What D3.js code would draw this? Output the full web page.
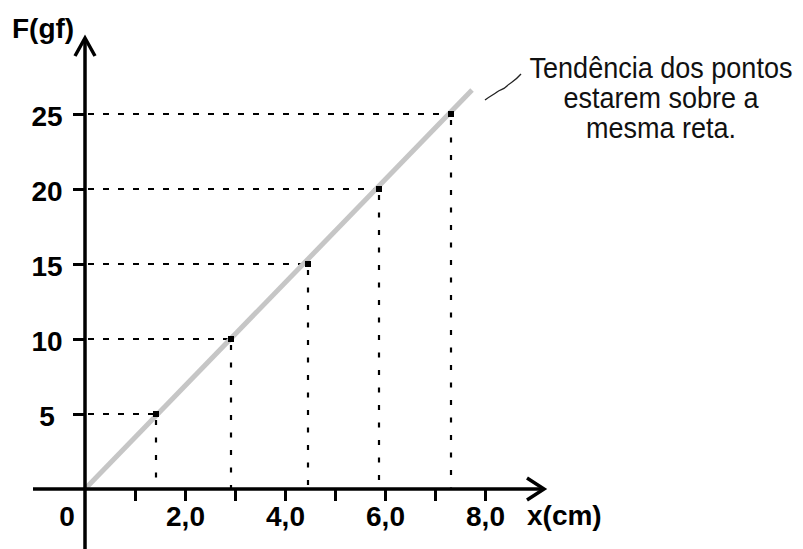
<!DOCTYPE html>
<html>
<head>
<meta charset="utf-8">
<script src="https://cdn.jsdelivr.net/npm/d3@7/dist/d3.min.js"></script>
<style>
  html, body { margin: 0; padding: 0; background: #fff; }
  svg { display: block; }
  .lbl { font-family: "Liberation Sans", Arial, sans-serif; font-weight: bold; font-size: 28px; fill: #000; }
  .note { font-family: "Liberation Sans", Arial, sans-serif; font-size: 26px; fill: #111; }
</style>
</head>
<body>
<script>
// Measured elongation x (cm) and the force F (gf) that produced it
const forces = [5, 10, 15, 20, 25];
const elongations = [1.42, 2.92, 4.46, 5.88, 7.32];

// End of the trend line drawn through the origin
const trendEnd = [7.74, 26.6];

// Axis ticks
const xTicks = [1, 2, 3, 4, 5, 6, 7, 8];
const yTicks = [5, 10, 15, 20, 25];

const noteLines = ["Tendência dos pontos", "estarem sobre a", "mesma reta."];

const W = 803, H = 549;
const svg = d3.select("body").append("svg").attr("width", W).attr("height", H);

const x = d3.scaleLinear().domain([0, 8]).range([85, 485]);
const y = d3.scaleLinear().domain([0, 25]).range([489, 114]);

const fmt = d => d3.format(".1f")(d).replace(".", ",");

// Dashed guides from each point to both axes
const guides = svg.append("g").attr("stroke", "#000").attr("stroke-width", 2.2).attr("fill", "none");
forces.forEach((f, i) => {
  guides.append("line")
    .attr("x1", x(0) + 3).attr("x2", x(elongations[i]))
    .attr("y1", y(f)).attr("y2", y(f))
    .attr("stroke-dasharray", "6,9");
  guides.append("line")
    .attr("x1", x(elongations[i])).attr("x2", x(elongations[i]))
    .attr("y1", y(f) + 6).attr("y2", y(0))
    .attr("stroke-dasharray", "5,12.5");
});

// Trend line
svg.append("line")
  .attr("x1", x(0)).attr("y1", y(0))
  .attr("x2", x(trendEnd[0])).attr("y2", y(trendEnd[1]))
  .attr("stroke", "#c6c6c6").attr("stroke-width", 5);

// Points
svg.append("g").selectAll("rect")
  .data(forces)
  .join("rect")
  .attr("x", (f, i) => x(elongations[i]) - 3)
  .attr("y", f => y(f) - 3)
  .attr("width", 6).attr("height", 6)
  .attr("fill", "#000");

// X axis
const xAxis = svg.append("g")
  .attr("transform", `translate(0,${y(0)})`)
  .call(d3.axisBottom(x).tickValues(xTicks).tickSize(12).tickPadding(5)
    .tickFormat(d => d % 2 === 0 ? fmt(d) : ""));
xAxis.select(".domain").remove();
xAxis.selectAll(".tick line").attr("stroke", "#000").attr("stroke-width", 3);
xAxis.selectAll(".tick text").attr("class", "lbl").attr("font-size", null).attr("font-family", null);

// Y axis
const yAxis = svg.append("g")
  .attr("transform", `translate(${x(0)},0)`)
  .call(d3.axisLeft(y).tickValues(yTicks).tickSize(12));
yAxis.select(".domain").remove();
yAxis.selectAll(".tick line").attr("stroke", "#000").attr("stroke-width", 3);
yAxis.selectAll(".tick text")
  .attr("class", "lbl").attr("font-size", null).attr("font-family", null)
  .attr("text-anchor", "middle").attr("x", -38).attr("dy", "0.4em");

// Axis lines with open arrowheads
const ax = svg.append("g").attr("stroke", "#000").attr("stroke-width", 3.5).attr("fill", "none");
ax.append("line").attr("x1", 33).attr("x2", 544).attr("y1", y(0)).attr("y2", y(0));
ax.append("path").attr("d", `M527,${y(0) - 11} L544,${y(0)} L527,${y(0) + 11}`);
ax.append("line").attr("x1", x(0)).attr("x2", x(0)).attr("y1", H).attr("y2", 39);
ax.append("path").attr("d", `M${x(0) - 10},56 L${x(0)},38 L${x(0) + 10},56`);

// Axis titles and origin label
svg.append("text").attr("class", "lbl").attr("x", 12).attr("y", 38).text("F(gf)");
svg.append("text").attr("class", "lbl").attr("x", 527).attr("y", 525).text("x(cm)");
svg.append("text").attr("class", "lbl").attr("x", 67).attr("y", 526).attr("text-anchor", "middle").text("0");

// Annotation with its leader line
svg.append("path")
  .attr("d", "M485,100 C490,96 493,95 497,92 C501,89 503,90 507,86 C511,82 514,82 521,74")
  .attr("fill", "none").attr("stroke", "#222").attr("stroke-width", 1.3);

svg.append("g").selectAll("text")
  .data(noteLines)
  .join("text")
  .attr("class", "note")
  .attr("text-anchor", "middle")
  .attr("transform", (d, i) => `translate(661,${78 + i * 30}) scale(1.04,1.12)`)
  .text(d => d);
</script>
</body>
</html>
